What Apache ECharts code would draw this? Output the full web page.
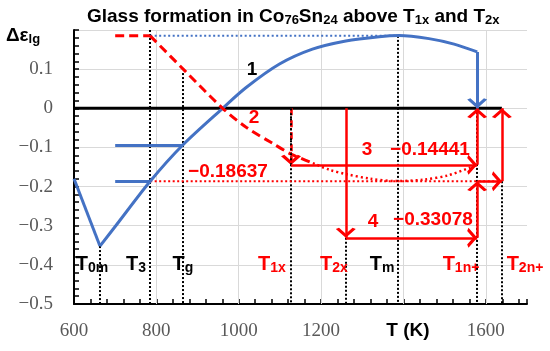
<!DOCTYPE html>
<html><head><meta charset="utf-8">
<script src="https://cdn.jsdelivr.net/npm/echarts@6/dist/echarts.min.js"></script>
<style>html,body{margin:0;padding:0;background:#fff}#c{width:550px;height:351px}</style>
</head><body><div id="c"></div>
<script>
// Characteristic temperatures (K)
const T0m = 663, T3 = 785, Tg = 863, T1x = 1127, T2x = 1260, Tm = 1385, T1n = 1579, T2n = 1639;
const tempNames = ['T0m', 'T3', 'Tg', 'T1x', 'T2x', 'Tm', 'T1n+', 'T2n+'];
// Values
const v3 = -0.14441, v4 = -0.33078, v5 = -0.18637;
const yTop1 = 0.185, yEnd1 = 0.144, yTg = -0.095;
// Tick labels
const xLabels = [600, 800, 1000, 1200, 1600];
const yLabels = [0.1, 0, -0.1, -0.2, -0.3, -0.4, -0.5];
// Curve 1 (blue)
const curve1V = [[600, -0.18], [663, -0.352]];
const curve1 = [[663, -0.352], [700, -0.302], [785, -0.18637], [863, -0.095], [961, 0], [1018, 0.053], [1099, 0.113], [1179, 0.151], [1260, 0.172], [1341, 0.183], [1389, 0.186], [1462, 0.178], [1523, 0.164], [1579, 0.144]];
// Curve 2 (red)
const curve2Flat = [[700, 0.185], [785, 0.185]];
const curve2 = [[785, 0.185], [870, 0.095], [961, 0], [1020, -0.05], [1083, -0.09], [1127, -0.117], [1180, -0.14]];
const curve2Dot = [[1180, -0.14], [1220, -0.157], [1260, -0.168], [1320, -0.18], [1381, -0.186], [1450, -0.182], [1510, -0.171], [1579, -0.144]];
// Drop lines: [T, y from]
const dropLines = [[T0m, -0.352], [T3, 0.2], [Tg, 0.09], [T1x, 0], [T2x, v4], [Tm, yTop1], [T1n, yEnd1], [T2n, v5]];
// Red arrows
const redArrows = [
  [[T2x, 0], [T2x, v4]],
  [[T1x, v3], [T1n, v3]],
  [[T2x, v4], [T1n, v4]],
  [[T1n, v4], [T1n, v5]],
  [[T1n, v3], [T1n, 0]],
  [[T1n, v5], [T2n, v5]],
  [[T2n, v5], [T2n, 0]]
];
const blueArrow = [[[T1n, yEnd1], [T1n, 0]]];
const dashedArrow = [[[T1x, 0], [T1x, v3]]];
const blueHoriz = [[[700, yTg], [Tg, yTg]], [[700, v5], [T3, v5]]];
const gridX = [800, 1000, 1200, 1400, 1600];

const ARROW = 'path://M5,-9 M5,0 L10,8 L8.4,9.2 L5,3.8 L1.6,9.2 L0,8 Z';
const RED = '#FF0000', BLUE = '#4472C4';

const chart = echarts.init(document.getElementById('c'), null, {renderer: 'canvas'});
const F = '"Liberation Sans", Arial, sans-serif';
const SERIF = '"Liberation Serif", "Times New Roman", serif';

function seg(list) { return list.map(c => ({coords: c})); }
function lineSeries(data, color, width, type, smooth, z) {
  return {type: 'line', data: data, showSymbol: false, symbol: 'none', smooth: smooth || false,
    lineStyle: {color: color, width: width, type: type || 'solid'}, z: z || 3, animation: false, silent: true};
}
function linesSeries(data, color, width, type, arrow, z) {
  return {type: 'lines', coordinateSystem: 'cartesian2d', data: seg(data), polyline: false,
    symbol: arrow ? ['none', ARROW] : ['none', 'none'], symbolSize: [11, 20],
    lineStyle: {color: color, width: width, type: type || 'solid', opacity: 1, curveness: 0},
    z: z || 3, animation: false, silent: true};
}

const subRich = (size, sub, color) => ({
  m: {fontFamily: F, fontWeight: 'bold', fontSize: size, color: color, verticalAlign: 'top', lineHeight: size + 1},
  s: {fontFamily: F, fontWeight: 'bold', fontSize: sub, color: color, verticalAlign: 'bottom', lineHeight: sub, padding: [9, 0, 0, 0]}
});

function txt(x, y, text, color, size, rich, fam, weight, align) {
  const st = {text: text, x: 0, y: 0, align: align || 'center', verticalAlign: 'middle', fill: color,
    font: (weight || 'bold') + ' ' + size + 'px ' + (fam || F)};
  if (rich) st.rich = rich;
  return {type: 'text', x: x, y: y, style: st, z: 100};
}

const tLabelPos = [92, 136, 183, 272, 334, 382, 461, 525];
const tLabelColor = ['#000', '#000', '#000', RED, RED, '#000', RED, RED];
const tSubs = ['0m', '3', 'g', '1x', '2x', 'm', '1n+', '2n+'];

const graphics = [
  txt(252, 70, '1', '#000', 19),
  txt(254, 118, '2', RED, 19),
  txt(367, 150, '3', RED, 19),
  txt(430, 150, '\u22120.14441', RED, 19),
  txt(228, 172, '\u22120.18637', RED, 19),
  txt(373, 222, '4', RED, 19),
  txt(433, 220, '\u22120.33078', RED, 19),
  txt(408, 331, 'T (K)', '#000', 19),
  txt(23, 36, '{m|\u0394\u03b5}{s|lg}', '#000', 19, subRich(19, 13, '#000'))
];
tSubs.forEach((s, i) => {
  graphics.push(txt(tLabelPos[i], 265, '{m|T}{s|' + s + '}', tLabelColor[i], 20, subRich(20, 14, tLabelColor[i])));
});
const option = {
  animation: false,
  title: {
    text: '{m|Glass formation in Co}{s|76}{m|Sn}{s|24}{m| above T}{s|1x}{m| and T}{s|2x}',
    left: 82, top: 2,
    textStyle: {rich: subRich(19, 13, '#000')}
  },
  grid: {left: 74, right: 23, top: 30, bottom: 47},
  xAxis: {
    type: 'value', min: 600, max: 1700, interval: 40,
    axisLine: {show: true, onZero: false, lineStyle: {color: '#000', width: 2}},
    axisTick: {show: true, inside: true, length: 5, lineStyle: {color: '#000', width: 1.5}},
    axisLabel: {show: false},
    splitLine: {show: false}
  },
  yAxis: {
    type: 'value', min: -0.5, max: 0.2, interval: 0.1,
    axisLine: {show: true, onZero: false, lineStyle: {color: '#000', width: 2}},
    axisTick: {show: true, inside: true, length: 5, lineStyle: {color: '#000', width: 1.5}},
    minorTick: {show: true, splitNumber: 5, length: 5, lineStyle: {color: '#000', width: 1.5}},
    axisLabel: {show: false},
    splitLine: {show: true, lineStyle: {color: '#d9d9d9', width: 1}}
  },
  series: [
    linesSeries(gridX.map(x => [[x, 0.2], [x, -0.5]]), '#d9d9d9', 1, 'solid', false, 1),
    lineSeries([[600, 0], [T2n, 0]], '#000', 3, 'solid', false, 2),
    linesSeries(dropLines.map(d => [[d[0], d[1]], [d[0], -0.5]]), '#000', 2, [2, 2], false, 2),
    lineSeries([[T3, yTop1], [Tm, yTop1]], BLUE, 2, [2, 2.5], false, 3),
    lineSeries([[T3, v5], [T2n, v5]], RED, 2, [2, 2.5], false, 3),
    lineSeries(curve1V, BLUE, 3, 'solid', false, 4),
    lineSeries(curve1, BLUE, 3, 'solid', 0.3, 4),
    linesSeries(blueHoriz, BLUE, 3, 'solid', false, 4),
    lineSeries(curve2Flat, RED, 3, [9, 5], false, 4),
    lineSeries(curve2, RED, 3, [9, 5], 0.3, 4),
    lineSeries(curve2Dot, RED, 2.5, [2, 3], 0.3, 4),
    linesSeries(dashedArrow, RED, 2.5, [7, 5], true, 5),
    linesSeries(dashedArrow, '#000', 2, [2, 3], false, 5),
    linesSeries(redArrows, RED, 2.5, 'solid', true, 5),
    linesSeries(blueArrow, BLUE, 3, 'solid', true, 5)
  ]
};
chart.setOption(option);

// Serif tick labels placed through the axis scales
const fmtY = r => r === 0 ? '0' : (r < 0 ? '\u2212' : '') + Math.abs(r).toFixed(1);
xLabels.forEach(v => {
  const p = chart.convertToPixel({gridIndex: 0}, [v, -0.5]);
  graphics.push(txt(p[0], p[1] + 27, String(v), '#595959', 19, null, SERIF, 'normal', 'center'));
});
yLabels.forEach(v => {
  const p = chart.convertToPixel({gridIndex: 0}, [600, v]);
  graphics.push(txt(p[0] - 21, p[1], fmtY(v), '#595959', 19, null, SERIF, 'normal', 'right'));
});
chart.setOption({graphic: graphics});
</script></body></html>
